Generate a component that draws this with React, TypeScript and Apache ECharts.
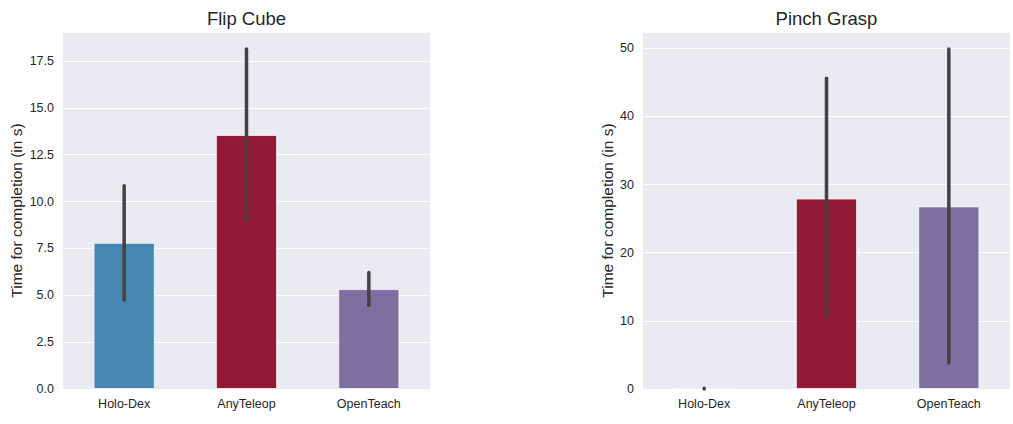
import React, { useEffect, useRef } from "react";
import * as echarts from "echarts";

const categories = ["Holo-Dex", "AnyTeleop", "OpenTeach"];
const barColors = ["#4587b1", "#921a36", "#7d70a0"];

const flipTitle = "Flip Cube";
const flipMeans = [7.8, 13.55, 5.33];
const flipLow = [4.75, 9.0, 4.47];
const flipHigh = [10.85, 18.14, 6.22];
const flipTicks = [0, 2.5, 5, 7.5, 10, 12.5, 15, 17.5];

const pinchTitle = "Pinch Grasp";
const pinchMeans = [0, 27.95, 26.8];
const pinchLow = [0, 10.5, 3.8];
const pinchHigh = [0.12, 45.6, 49.9];
const pinchTicks = [0, 10, 20, 30, 40, 50];

const yName = "Time for completion (in s)";
const FONT = "'Liberation Sans', Arial, sans-serif";

export default function App() {
  const ref = useRef<HTMLDivElement>(null);
  useEffect(() => {
    const chart = echarts.init(ref.current!, null, { renderer: "svg" });
    const errRender = (params: any, api: any) => {
      const x = api.value(0);
      const lo = api.coord([x, api.value(1)]);
      const hi = api.coord([x, api.value(2)]);
      return {
        type: "line",
        shape: { x1: lo[0], y1: lo[1], x2: hi[0], y2: hi[1] },
        style: { stroke: "#424242", lineWidth: 3.5, lineCap: "round" },
      };
    };
    const yAxisBase = (ticks: number[], max: number, gap: number, fmt: (v: number) => string) => ({
      type: "value",
      min: 0,
      max,
      interval: ticks[1] - ticks[0],
      name: yName,
      nameLocation: "middle",
      nameGap: gap,
      nameTextStyle: { fontSize: 15.5, color: "#262626", fontFamily: FONT },
      axisLine: { show: false },
      axisTick: { show: false },
      axisLabel: {
        fontSize: 12.5,
        color: "#262626",
        fontFamily: FONT,
        margin: 9,
        showMaxLabel: false,
        formatter: (v: number) => (ticks.some((t) => Math.abs(t - v) < 1e-6) ? fmt(v) : ""),
      },
      splitLine: { show: true, lineStyle: { color: "#ffffff", width: 1 } },
    });
    const xAxisBase = (gi: number) => ({
      type: "category",
      gridIndex: gi,
      data: categories,
      axisLine: { show: false },
      axisTick: { show: false },
      axisLabel: { fontSize: 12.5, color: "#262626", fontFamily: FONT, margin: 8 },
      splitLine: { show: false },
    });
    const barData = (vals: number[]) =>
      vals.map((v, i) => ({ value: v, itemStyle: { color: barColors[i] } }));
    const errData = (lo: number[], hi: number[]) => lo.map((l, i) => [i, l, hi[i]]);
    const flipMax = Math.max(...flipHigh) * 1.05;
    const pinchMax = Math.max(...pinchHigh) * 1.05;
    chart.setOption({
      animation: false,
      backgroundColor: "#ffffff",
      grid: [
        { left: 63, right: 583, top: 32, bottom: 35, show: true, backgroundColor: "#eaeaf2", borderWidth: 0 },
        { left: 643, right: 3, top: 32, bottom: 35, show: true, backgroundColor: "#eaeaf2", borderWidth: 0 },
      ],
      xAxis: [xAxisBase(0), xAxisBase(1)],
      yAxis: [
        { ...yAxisBase(flipTicks, flipMax, 39, (v) => v.toFixed(1)), gridIndex: 0 },
        { ...yAxisBase(pinchTicks, pinchMax, 28, (v) => String(Math.round(v))), gridIndex: 1 },
      ],
      graphic: [
        {
          type: "text",
          x: 246.5,
          y: 18,
          style: { text: flipTitle, fontSize: 18.5, fill: "#262626", fontFamily: FONT, textAlign: "center", textVerticalAlign: "middle" },
        },
        {
          type: "text",
          x: 826.5,
          y: 18,
          style: { text: pinchTitle, fontSize: 18.5, fill: "#262626", fontFamily: FONT, textAlign: "center", textVerticalAlign: "middle" },
        },
      ],
      series: [
        {
          type: "bar",
          xAxisIndex: 0,
          yAxisIndex: 0,
          barWidth: "50%",
          data: barData(flipMeans),
          itemStyle: { borderColor: "rgba(255,255,255,0.7)", borderWidth: 1 },
        },
        {
          type: "custom",
          xAxisIndex: 0,
          yAxisIndex: 0,
          renderItem: errRender,
          encode: { x: 0, y: [1, 2] },
          data: errData(flipLow, flipHigh),
          z: 10,
        },
        {
          type: "bar",
          xAxisIndex: 1,
          yAxisIndex: 1,
          barWidth: "50%",
          data: barData(pinchMeans),
          itemStyle: { borderColor: "rgba(255,255,255,0.7)", borderWidth: 1 },
        },
        {
          type: "custom",
          xAxisIndex: 1,
          yAxisIndex: 1,
          renderItem: errRender,
          encode: { x: 0, y: [1, 2] },
          data: errData(pinchLow, pinchHigh),
          z: 10,
        },
      ],
    });
    return () => chart.dispose();
  }, []);
  return (
    <div
      ref={ref}
      style={{ position: "fixed", left: 0, top: 0, width: 1013, height: 424 }}
    />
  );
}
